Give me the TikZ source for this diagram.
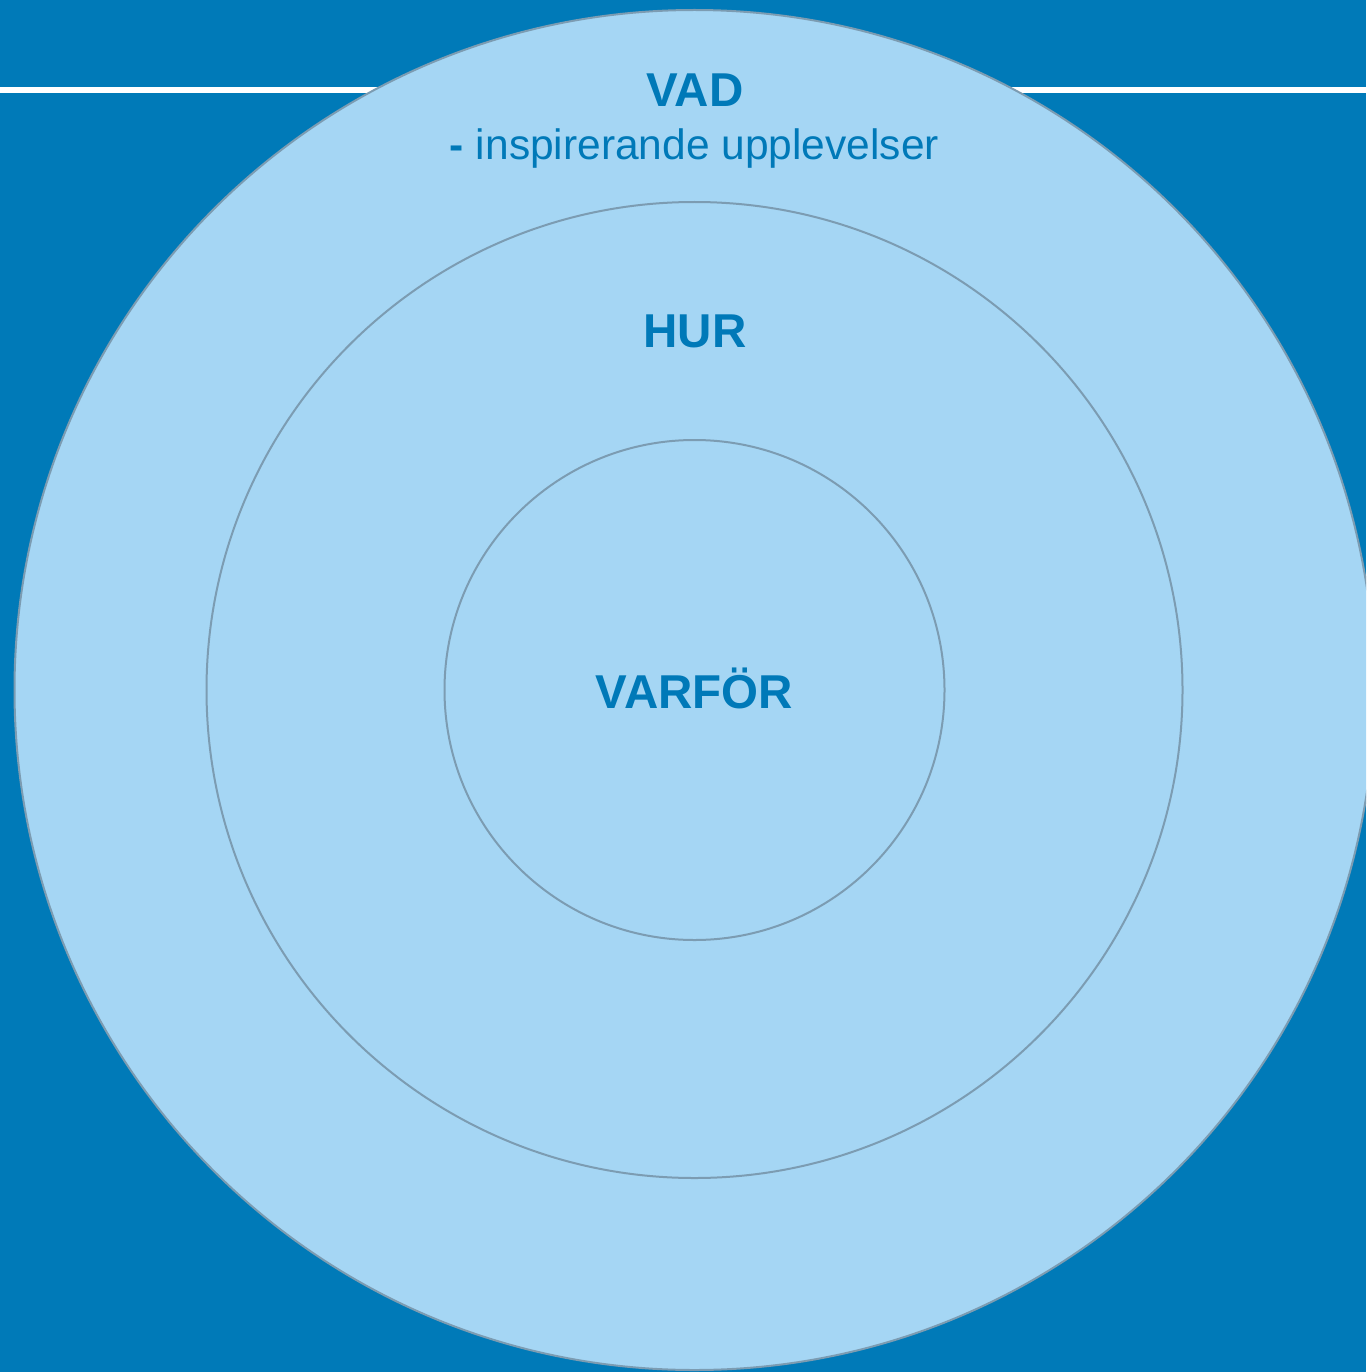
\documentclass[tikz,border=0pt]{standalone}
\usepackage{fontspec}
\setmainfont{Liberation Sans}
\definecolor{bgblue}{HTML}{007AB8}
\definecolor{ringfill}{HTML}{A5D6F4}
\definecolor{ringline}{HTML}{7C9CB2}
\definecolor{txtblue}{HTML}{0079B8}
\tikzset{
  ring/.style={draw=ringline, line width=2pt, fill=ringfill},
  heading/.style={text=txtblue, font=\bfseries\fontsize{47.5}{52}\selectfont, anchor=base, inner sep=0pt},
  subhead/.style={text=txtblue, font=\fontsize{42.5}{46}\selectfont, anchor=base, inner sep=0pt}
}
\begin{document}
\begin{tikzpicture}[x=1pt,y=-1pt]
\useasboundingbox (0,0) rectangle (1366,1372);
\clip (0,0) rectangle (1366,1372);
\fill[bgblue] (0,0) rectangle (1366,1372);
\coordinate (lineL) at (0,90);
\coordinate (lineR) at (1366,90);
\draw[white, line width=6pt] (lineL) -- (lineR);
\coordinate (c) at (694.5,690);
\draw[ring] (c) circle[radius=680];
\draw[ring] (c) circle[radius=488];
\draw[ring] (c) circle[radius=250];
\node[heading] (vad) at (695,107) {VAD};
\node[subhead] (sub) at (694.5,160) {\textbf{-} inspirerande upplevelser};
\node[heading] (hur) at (695,347) {HUR};
\node[heading] (varfor) at (694.5,708) {VARFÖR};
\end{tikzpicture}
\end{document}
